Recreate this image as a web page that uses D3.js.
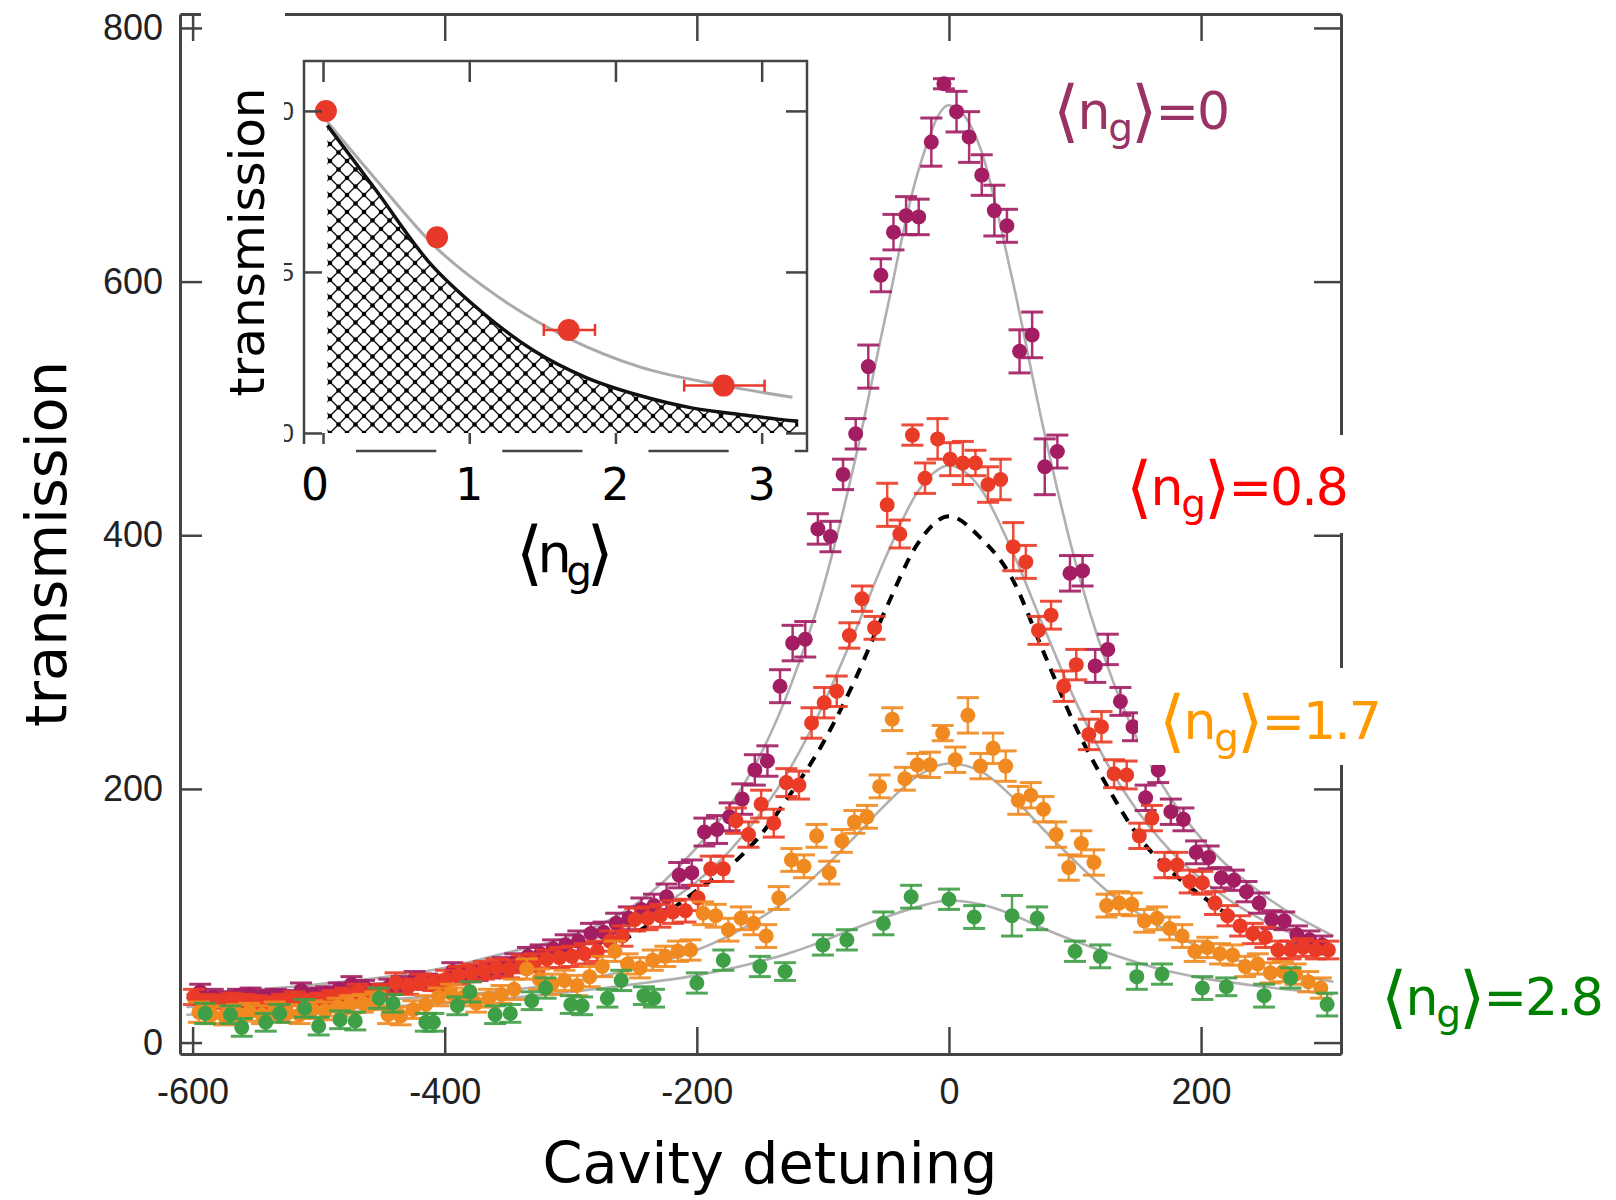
<!DOCTYPE html>
<html><head><meta charset="utf-8">
<script src="https://cdn.jsdelivr.net/npm/d3@7"></script>
<style>html,body{margin:0;padding:0;background:#fff;} svg{display:block;}</style>
</head><body>
<script>
// ---------------- DATA ----------------
// main panel: [detuning, transmission, error]
const ng0 = [
[-594,40,6],[-584,36,6],[-574,35,5],[-564,37,5],[-554,38,5],[-544,36,5],[-534,37,5],[-524,36,5],[-514,41,6],[-504,38,5],[-494,39,5],[-484,42,5],[-474,46,6],[-464,44,5],[-454,41,5],[-444,44,6],[-434,46,6],[-424,50,6],[-414,48,6],[-404,47,6],[-394,56,7],[-384,54,6],[-374,55,6],[-364,57,6],[-354,60,7],[-344,63,7],[-334,68,7],[-324,70,7],[-314,74,7],[-304,77,8],[-294,80,8],[-284,86,8],[-274,87,8],[-264,94,8],[-254,98,9],[-244,105,9],[-234,108,9],[-224,115,10],[-214,132,10],[-204,134,10],[-194,166,11],[-184,168,11],[-174,178,11],[-164,192,12],[-154,215,12],[-144,222,12],[-134,281,13],[-124,315,14],[-114,318,14],[-104,405,12],[-94,399,12],[-84,448,12],[-74,480,12],[-64,533,17],[-54,605,13],[-44,639,14],[-34,652,15],[-24,651,14],[-14,710,19],[-4,756,4],[6,734,16],[16,714,20],[26,684,16],[36,656,20],[46,644,13],[56,545,17],[66,558,18],[76,454,22],[86,466,13],[96,370,14],[106,372,12],[116,297,13],[126,310,12],[136,269,11],[146,249,11],[156,193,10],[166,215,10],[176,182,10],[186,176,9],[196,150,9],[206,146,9],[216,130,8],[226,128,8],[236,119,8],[246,110,8],[256,97,7],[266,96,7],[276,85,7],[286,81,7],[296,77,7]
];
const ng08 = [
[-599,36,6],[-589,33,5],[-579,32,5],[-569,34,5],[-559,33,5],[-549,32,5],[-539,31,5],[-529,33,5],[-519,35,5],[-509,33,5],[-499,34,5],[-489,36,5],[-479,37,6],[-469,40,6],[-459,38,6],[-449,40,6],[-439,47,8],[-429,44,6],[-419,48,6],[-409,47,6],[-399,50,7],[-389,53,7],[-379,55,7],[-369,57,7],[-359,59,7],[-349,58,7],[-339,62,7],[-329,63,7],[-319,66,7],[-309,67,8],[-299,68,8],[-289,70,8],[-279,72,8],[-269,80,8],[-259,84,8],[-249,97,9],[-239,98,9],[-229,100,9],[-219,103,9],[-209,104,9],[-199,114,10],[-189,137,10],[-179,137,10],[-169,175,10],[-159,164,10],[-149,188,11],[-139,173,11],[-129,205,11],[-119,203,11],[-109,252,12],[-99,268,12],[-89,277,12],[-79,321,10],[-69,350,10],[-59,327,9],[-49,424,17],[-39,401,11],[-29,479,8],[-19,445,12],[-9,476,16],[1,460,13],[11,457,17],[21,457,10],[31,440,14],[41,444,16],[51,391,19],[61,379,13],[71,325,11],[81,337,11],[91,281,12],[101,298,12],[111,243,12],[121,249,12],[131,212,11],[141,211,11],[151,163,10],[161,177,10],[171,140,10],[181,140,10],[191,127,9],[201,126,9],[211,110,9],[221,100,8],[231,92,8],[241,86,8],[251,83,8],[261,73,7],[271,73,7],[281,75,7],[291,73,7],[301,73,7]
];
const ng17 = [
[-595,24,8],[-585,22,7],[-575,21,7],[-565,23,7],[-555,24,7],[-545,22,7],[-535,25,7],[-525,23,7],[-515,22,7],[-505,26,7],[-495,25,7],[-485,28,7],[-475,30,7],[-465,31,7],[-455,33,7],[-445,22,7],[-435,21,7],[-425,26,7],[-415,30,7],[-405,36,7],[-395,39,7],[-385,36,7],[-375,31,7],[-365,35,7],[-355,38,7],[-345,42,8],[-335,58,8],[-325,50,8],[-315,46,8],[-305,49,8],[-295,45,8],[-285,52,8],[-275,60,8],[-265,72,8],[-255,62,8],[-245,59,8],[-235,65,8],[-225,68,8],[-215,72,8],[-205,73,8],[-195,102,9],[-185,100,9],[-175,89,9],[-165,98,9],[-155,94,9],[-145,84,9],[-135,114,9],[-125,144,9],[-115,139,9],[-105,163,9],[-95,134,9],[-85,159,9],[-75,174,9],[-65,178,9],[-55,202,9],[-45,255,9],[-35,208,9],[-25,219,9],[-15,219,10],[-5,244,6],[5,223,10],[15,258,14],[25,218,10],[35,232,12],[45,218,12],[55,191,11],[65,195,10],[75,184,10],[85,164,10],[95,138,10],[105,157,10],[115,142,10],[125,108,9],[135,110,9],[145,109,9],[155,96,9],[165,98,9],[175,90,9],[185,84,9],[195,72,8],[205,75,8],[215,70,8],[225,69,8],[235,60,8],[245,62,8],[255,55,8],[265,56,8],[275,54,8],[285,48,8],[295,43,8]
];
const ng28 = [
[-590,23,8],[-570,22,7],[-561,12,7],[-542,16,7],[-531,23,7],[-511,27,7],[-500,13,7],[-483,18,7],[-471,17,7],[-452,35,8],[-441,31,7],[-415,16,7],[-409,16,7],[-390,29,7],[-380,40,8],[-360,22,7],[-348,23,7],[-331,33,7],[-320,43,8],[-300,30,7],[-291,29,7],[-271,35,7],[-260,49,8],[-242,37,7],[-234,35,7],[-200,47,8],[-179,65,8],[-150,60,8],[-130,56,7],[-100,77,8],[-81,81,8],[-52,94,9],[-30,115,9],[0,113,8],[20,99,9],[50,100,16],[70,98,9],[100,72,8],[120,68,9],[149,52,10],[169,54,8],[201,43,9],[220,44,7],[250,37,9],[271,51,8],[300,30,9]
];
// fitted curves (gray) read at these detunings
const fitX   = [-605,-500,-400,-350,-300,-250,-200,-175,-150,-125,-100,-75,-50,-25,0,25,50,75,100,125,150,175,200,250,305];
const fit0   = [38,46,59,71,84,108,154,185,226,283,358,457,574,685,739,705,603,484,380,299,238,194,161,116,84];
const fit08  = [35,42,53,62,75,96,127,150,180,218,266,323,383,434,455,437,388,328,270,221,182,152,129,96,75];
const fit17  = [28,31,37,41,48,58,73,84,98,115,137,162,188,210,220,214,194,168,143,120,102,87,75,59,48];
const fit28  = [22,26,31,35,40,46,53,58,64,71,80,90,99,107,112,109,101,90,80,71,63,56,51,44,38];
// dashed black curve
const dashX = [-260,-230,-200,-175,-150,-125,-100,-75,-50,-25,0,25,50,75,100,125,150,175,200,230];
const dashY = [80,98,120,138,163,197,236,285,342,393,415,398,366,308,250,203,163,136,116,95];
// axis ticks
const xTicks = [-600,-400,-200,0,200];
const yTicks = [0,200,400,600,800];
// series labels
const labelTexts = ["=0","=0.8","=1.7","=2.8"];
const labelColors = ["#993366","#ff0000","#ff9900","#008000"];
const dotColors = ["#a31d63","#ea3b26","#f08a20","#3f9f46"];

// inset
const insN    = [0.02,0.78,1.68,2.74];
const insT    = [1.0,0.608,0.32,0.147];
const insNlo  = [0.02,0.78,1.51,2.47];
const insNhi  = [0.02,0.78,1.86,3.02];
const blackN  = [0.03,0.36,0.72,1.08,1.44,1.80,2.16,2.52,2.88,3.19,3.25];
const blackT  = [0.955,0.755,0.533,0.378,0.256,0.172,0.117,0.078,0.056,0.039,0.037];
const grayN   = [0.03,0.36,0.77,1.20,1.68,2.16,2.74,3.21];
const grayT   = [0.966,0.788,0.577,0.422,0.294,0.206,0.147,0.111];
const insXTicks = [0,1,2,3];
const insYTicks = [0,0.5,1];
const insYLabels = ["0.0","0.5","1.0"];

// ---------------- DRAWING ----------------
const W=1616,H=1200;
const COMIC="'DejaVu Sans',sans-serif";
const HELV="'Liberation Sans',Arial,Helvetica,sans-serif";
const svg=d3.select("body").append("svg").attr("width",W).attr("height",H);
svg.append("rect").attr("width",W).attr("height",H).attr("fill","#fff");

const x=d3.scaleLinear().domain([-610,311]).range([180,1341]);
const y=d3.scaleLinear().domain([-9,811]).range([1054,14]);

// fit curves
const line=d3.line().x(d=>x(d[0])).y(d=>y(d[1])).curve(d3.curveMonotoneX);
[fit0,fit08,fit17,fit28].forEach(f=>{
  svg.append("path").attr("d",line(fitX.map((v,i)=>[v,f[i]])))
    .attr("fill","none").attr("stroke","#b0b0b0").attr("stroke-width",2.6);
});
svg.append("path").attr("d",line(dashX.map((v,i)=>[v,dashY[i]])))
  .attr("fill","none").attr("stroke","#000").attr("stroke-width",4)
  .attr("stroke-dasharray","11,9");

// data series
[ng0,ng08,ng17,ng28].forEach((data,si)=>{
  const c=dotColors[si];
  const g=svg.append("g");
  g.selectAll("line.v").data(data).join("line").attr("class","v")
    .attr("x1",d=>x(d[0])).attr("x2",d=>x(d[0]))
    .attr("y1",d=>y(d[1]-d[2])).attr("y2",d=>y(d[1]+d[2]))
    .attr("stroke",c).attr("stroke-width",2.5).attr("stroke-opacity",0.9);
  g.selectAll("line.lo").data(data).join("line").attr("class","lo")
    .attr("x1",d=>x(d[0])-11).attr("x2",d=>x(d[0])+11)
    .attr("y1",d=>y(d[1]-d[2])).attr("y2",d=>y(d[1]-d[2]))
    .attr("stroke",c).attr("stroke-width",3).attr("stroke-opacity",0.9);
  g.selectAll("line.hi").data(data).join("line").attr("class","hi")
    .attr("x1",d=>x(d[0])-11).attr("x2",d=>x(d[0])+11)
    .attr("y1",d=>y(d[1]+d[2])).attr("y2",d=>y(d[1]+d[2]))
    .attr("stroke",c).attr("stroke-width",3).attr("stroke-opacity",0.9);
  g.selectAll("circle").data(data).join("circle")
    .attr("cx",d=>x(d[0])).attr("cy",d=>y(d[1])).attr("r",7.5).attr("fill",c);
});

// axes (frame)
function styleAxis(g){
  g.select(".domain").attr("stroke","#444").attr("stroke-width",3);
  g.selectAll(".tick line").attr("stroke","#444").attr("stroke-width",2.5);
  g.selectAll(".tick text").attr("fill","#222").attr("font-size",36).attr("font-family",HELV);
}
svg.append("g").attr("transform","translate(180,0)")
  .call(d3.axisLeft(y).tickValues(yTicks).tickSize(-22).tickSizeOuter(0).tickPadding(17).tickFormat(d=>String(d)))
  .call(styleAxis);
svg.append("g").attr("transform","translate(0,1054)")
  .call(d3.axisBottom(x).tickValues(xTicks).tickSize(-27).tickSizeOuter(0).tickPadding(24).tickFormat(d=>String(d)))
  .call(styleAxis);
svg.append("g").attr("transform","translate(0,14)")
  .call(d3.axisTop(x).tickValues(xTicks).tickSize(-27).tickSizeOuter(0).tickFormat(""))
  .call(styleAxis);
svg.append("g").attr("transform","translate(1341,0)")
  .call(d3.axisRight(y).tickValues(yTicks).tickSize(-27).tickSizeOuter(0).tickFormat(""))
  .call(styleAxis);
// gap in top border
svg.append("rect").attr("x",201).attr("y",6).attr("width",84).attr("height",16).attr("fill","#fff");

// axis titles
function fitW(sel,target){const w=sel.node().getBBox().width;sel.attr("font-size",(+sel.attr("font-size"))*target/w);}
const yt=svg.append("text").attr("transform","translate(66,544) rotate(-90)")
  .attr("text-anchor","middle").attr("font-family",COMIC).attr("font-size",56).attr("fill","#000").text("transmission");
const xt=svg.append("text").attr("x",770).attr("y",1183)
  .attr("text-anchor","middle").attr("font-family",COMIC).attr("font-size",56).attr("fill","#000").text("Cavity detuning");
fitW(yt,366); fitW(xt,455);

// ---------------- INSET ----------------
const xi=d3.scaleLinear().domain([-0.13,3.31]).range([304,807]);
const yi=d3.scaleLinear().domain([-0.056,1.155]).range([451,61]);
const ins=svg.append("g");
ins.append("rect").attr("x",304).attr("y",61).attr("width",503).attr("height",390).attr("fill","#fff");
const defs=svg.append("defs");
const s=17;
const pat=defs.append("pattern").attr("id","hatch").attr("patternUnits","userSpaceOnUse")
  .attr("width",s).attr("height",s).attr("x",330).attr("y",yi(0));
pat.append("path").attr("d",`M0,0L${s},${s}M0,${s}L${s},0`).attr("stroke","#000").attr("stroke-width",1.25);
[[0,0],[s,0],[0,s],[s,s],[s/2,s/2]].forEach(p=>pat.append("circle").attr("cx",p[0]).attr("cy",p[1]).attr("r",2.3).attr("fill","#000"));
const iarea=d3.area().x(d=>xi(d[0])).y0(yi(0)).y1(d=>yi(d[1])).curve(d3.curveMonotoneX);
const iline=d3.line().x(d=>xi(d[0])).y(d=>yi(d[1])).curve(d3.curveMonotoneX);
ins.append("path").attr("d",iarea(blackN.map((v,i)=>[v,blackT[i]]))).attr("fill","url(#hatch)");
ins.append("path").attr("d",iline(grayN.map((v,i)=>[v,grayT[i]]))).attr("fill","none").attr("stroke","#aaa").attr("stroke-width",3);
ins.append("path").attr("d",iline(blackN.map((v,i)=>[v,blackT[i]]))).attr("fill","none").attr("stroke","#111").attr("stroke-width",3.5);
const red="#e8382a";
insN.forEach((n,i)=>{
  if(insNhi[i]>insNlo[i]){
    ins.append("line").attr("x1",xi(insNlo[i])).attr("x2",xi(insNhi[i])).attr("y1",yi(insT[i])).attr("y2",yi(insT[i])).attr("stroke",red).attr("stroke-width",2.5);
    [insNlo[i],insNhi[i]].forEach(v=>ins.append("line").attr("x1",xi(v)).attr("x2",xi(v)).attr("y1",yi(insT[i])-6).attr("y2",yi(insT[i])+6).attr("stroke",red).attr("stroke-width",2.5));
  }
  ins.append("circle").attr("cx",xi(n)).attr("cy",yi(insT[i])).attr("r",11).attr("fill",red);
});
ins.append("rect").attr("x",304).attr("y",61).attr("width",503).attr("height",390).attr("fill","none").attr("stroke","#444").attr("stroke-width",2.5);
function tickOnly(g){g.select(".domain").remove();g.selectAll(".tick line").attr("stroke","#444").attr("stroke-width",2.5);}
ins.append("g").attr("transform","translate(0,61)").call(d3.axisTop(xi).tickValues(insXTicks).tickSize(-21).tickFormat("")).call(tickOnly);
ins.append("g").attr("transform","translate(0,451)").call(d3.axisBottom(xi).tickValues(insXTicks).tickSize(-18).tickFormat("")).call(tickOnly);
ins.append("g").attr("transform","translate(304,0)").call(d3.axisLeft(yi).tickValues(insYTicks).tickSize(-18).tickFormat("")).call(tickOnly);
ins.append("g").attr("transform","translate(807,0)").call(d3.axisRight(yi).tickValues(insYTicks).tickSize(-21).tickFormat("")).call(tickOnly);
// white patches behind the inset tick numbers
insXTicks.forEach(v=>{
  ins.append("rect").attr("x",xi(v)-33).attr("y",444).attr("width",66).attr("height",62).attr("fill","#fff");
  ins.append("text").attr("x",xi(v)-(v===0?8:0)).attr("y",500).attr("text-anchor","middle")
    .attr("font-family",COMIC).attr("font-size",44).attr("fill","#000").text(String(v));
});
// clipped fragments of inset y tick labels
defs.append("clipPath").attr("id","yclip").append("rect").attr("x",284).attr("y",0).attr("width",19).attr("height",H);
const yl=ins.append("g").attr("clip-path","url(#yclip)");
insYTicks.forEach((v,i)=>{
  yl.append("text").attr("x",294).attr("y",yi(v)).attr("dy","0.36em").attr("text-anchor","end")
    .attr("font-family",HELV).attr("font-size",26).attr("fill","#333").text(insYLabels[i]);
});
const iyt=ins.append("text").attr("transform","translate(264,242) rotate(-90)")
  .attr("text-anchor","middle").attr("font-family",COMIC).attr("font-size",50).attr("fill","#000").text("transmission");
fitW(iyt,309);

// ---------------- labels ⟨n_g⟩ ----------------
function ngText(g,xp,yp,tail,color,F,anchor,ls){
  const t=g.append("text").attr("x",xp).attr("y",yp).attr("fill",color)
    .attr("font-family",COMIC).attr("font-size",F).attr("text-anchor",anchor||"start")
    .attr("letter-spacing",ls||0);
  t.append("tspan").attr("font-size",F*1.3).attr("dy",F*0.1).text("\u27E8");
  t.append("tspan").attr("dy",-F*0.1).text("n");
  t.append("tspan").attr("font-size",F*0.75).attr("dy",F*0.24).text("g");
  t.append("tspan").attr("font-size",F*1.3).attr("dy",-F*0.14).text("\u27E9");
  if(tail) t.append("tspan").attr("dy",-F*0.1).text(tail);
  return t;
}
// inset x label
let tmp=ngText(ins,562,572,"","#000",54,"middle");
let w0=tmp.node().getBBox().width; tmp.remove();
ngText(ins,562,572,"","#000",54,"middle",(98-w0)/3);

// series labels: font size from digit height, letter spacing to match width
const F=52;
// white boxes that hide the right axis behind two labels
svg.append("rect").attr("x",1100).attr("y",435).attr("width",265).attr("height",98).attr("fill","#fff");
svg.append("rect").attr("x",1138).attr("y",668).attr("width",250).attr("height",97).attr("fill","#fff");
const lx=[1053,1126,1159,1381], ly=[129,505,739,1015], lw=[170,222,212,222];
labelTexts.forEach((t,i)=>{
  const tt=ngText(svg,lx[i],-200,t,"#000",F);
  const w=tt.node().getBBox().width; tt.remove();
  const n=4+t.length;
  ngText(svg,lx[i],ly[i],t,labelColors[i],F,"start",Math.max(-2,(lw[i]-w)/(n-1)));
});
</script>
</body></html>
